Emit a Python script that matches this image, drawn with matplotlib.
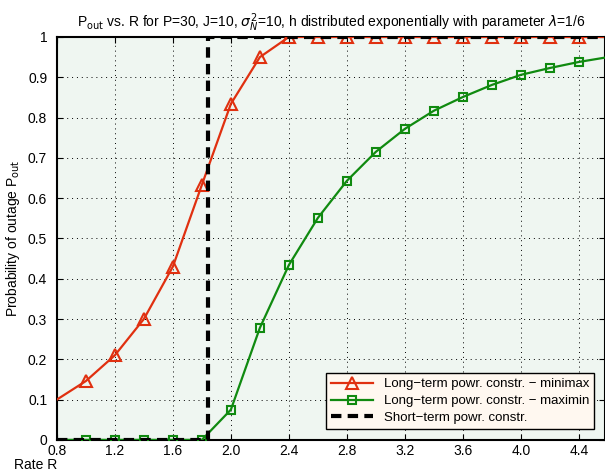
import matplotlib
matplotlib.use("Agg")
import matplotlib.pyplot as plt
import numpy as np

# Rate values and outage probabilities
rate = [0.8, 1.0, 1.2, 1.4, 1.6, 1.8, 2.0, 2.2, 2.4, 2.6, 2.8, 3.0, 3.2, 3.4,
        3.6, 3.8, 4.0, 4.2, 4.4, 4.6]
p_minimax = [0.10, 0.146, 0.21, 0.30, 0.43, 0.633, 0.834, 0.95, 1.0, 1.0, 1.0,
             1.0, 1.0, 1.0, 1.0, 1.0, 1.0, 1.0, 1.0, 1.0]
p_maximin = [0.0, 0.0, 0.0, 0.0, 0.0, 0.0, 0.075, 0.278, 0.434, 0.551, 0.643,
             0.715, 0.772, 0.817, 0.851, 0.881, 0.906, 0.923, 0.938, 0.95]
short_x = [0.8, 1.84, 1.84, 4.6]
short_y = [0.0, 0.0, 1.0, 1.0]

xticks = [0.8, 1.2, 1.6, 2.0, 2.4, 2.8, 3.2, 3.6, 4.0, 4.4]
xticklabels = ["0.8", "1.2", "1.6", "2.0", "2.4", "2.8", "3.2", "3.6", "4.0", "4.4"]
yticks = [0, 0.1, 0.2, 0.3, 0.4, 0.5, 0.6, 0.7, 0.8, 0.9, 1]
yticklabels = ["0", "0.1", "0.2", "0.3", "0.4", "0.5", "0.6", "0.7", "0.8", "0.9", "1"]

plt.rcParams['font.family'] = ['Liberation Sans', 'DejaVu Sans']

fig = plt.figure(figsize=(6.05, 4.74), dpi=100)
ax = fig.add_axes([0.094, 0.072, 0.906, 0.850])
ax.set_facecolor('#eff6f1')

ax.plot(rate, p_minimax, color='#e03010', lw=1.6, marker='^', ms=9,
        mfc='none', mec='#e03010', mew=1.5, markevery=list(range(1, 19)),
        label='Long\u2212term powr. constr. \u2212 minimax', zorder=3)
ax.plot(rate, p_maximin, color='#108a10', lw=1.6, marker='s', ms=6,
        mfc='none', mec='#108a10', mew=1.5, markevery=list(range(1, 19)),
        label='Long\u2212term powr. constr. \u2212 maximin', zorder=3)
ax.plot(short_x, short_y, color='black', lw=3, ls=(0, (2.5, 1.5)),
        label='Short\u2212term powr. constr.', zorder=4)

ax.set_xlim(0.8, 4.58)
ax.set_ylim(0, 1)
ax.set_xticks(xticks)
ax.set_xticklabels(xticklabels)
ax.set_yticks(yticks)
ax.set_yticklabels(yticklabels)
ax.tick_params(direction='in', labelsize=10, length=4, top=True, right=True)
ax.tick_params(axis='x', pad=3)
ax.tick_params(axis='y', pad=7)
ax.grid(True, ls=(0, (1, 4)), color='black', lw=0.7)
for s in ax.spines.values():
    s.set_linewidth(1.5)

ax.set_xlabel('Rate R', fontsize=10)
ax.xaxis.set_label_coords(-0.078, -0.08)
ax.xaxis.label.set_horizontalalignment('left')
ax.xaxis.label.set_verticalalignment('bottom')
ax.set_ylabel('Probability of outage P$_{\\mathrm{out}}$', fontsize=10, labelpad=4)
ax.set_title('P$_{\\mathrm{out}}$ vs. R for P=30, J=10, $\\sigma^2_N$=10, h distributed '
             'exponentially with parameter $\\lambda$=1/6', fontsize=10, pad=7)

leg = ax.legend(loc='lower right', fontsize=9.5, fancybox=False, framealpha=1,
                facecolor='#fff8f0', edgecolor='black', borderaxespad=0.8,
                handlelength=3.2, labelspacing=0.35, borderpad=0.4)
leg.get_frame().set_linewidth(1.0)

fig.savefig('out.png', dpi=100)
